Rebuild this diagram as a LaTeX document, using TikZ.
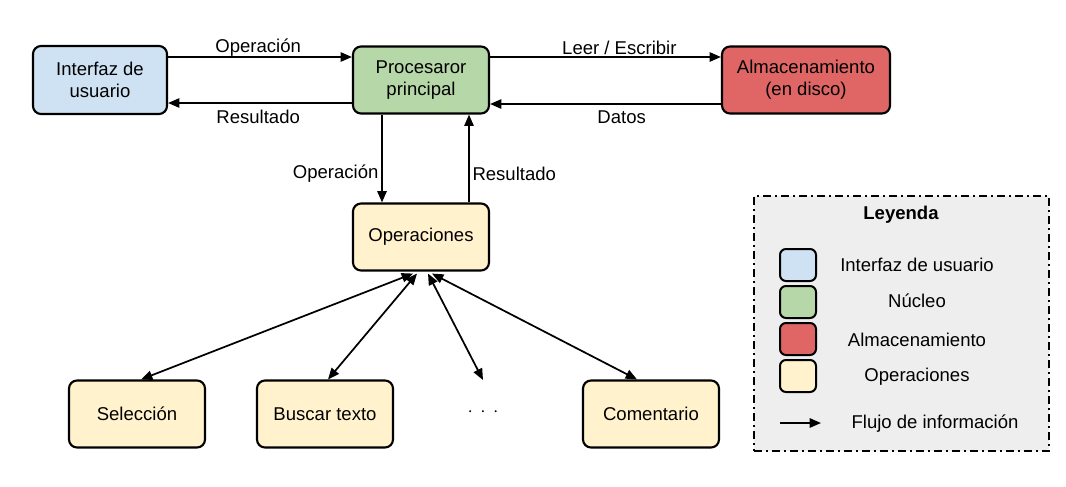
\documentclass[tikz,border=0pt]{standalone}
\usepackage{fontspec}
\setmainfont{Liberation Sans}
\usetikzlibrary{arrows.meta}
\definecolor{cUI}{HTML}{CFE2F3}
\definecolor{cCore}{HTML}{B6D7A8}
\definecolor{cDisk}{HTML}{E06666}
\definecolor{cOps}{HTML}{FFF2CC}
\definecolor{cLeg}{HTML}{EEEEEE}
\tikzset{
  box/.style={draw=black, line width=1.6pt, rounded corners=6pt, align=center,
    minimum width=102pt, minimum height=50.25pt, inner sep=0pt},
  swatch/.style={draw=black, line width=1.5pt, rounded corners=4.5pt,
    minimum width=27pt, minimum height=24pt, inner sep=0pt},
  flow/.style={line width=1.3pt, -{Triangle[length=8.5pt,width=7pt]}},
  biflow/.style={line width=1.3pt, {Triangle[length=8.5pt,width=7pt]}-{Triangle[length=8.5pt,width=7pt]}},
  lbl/.style={inner sep=2pt},
  every node/.style={font=\fontsize{13.9}{16.5}\selectfont}
}
\begin{document}
\begin{tikzpicture}[x=0.75pt,y=-0.75pt]
\useasboundingbox (0,0) rectangle (1066,486);
% main nodes
\node[box, fill=cUI, minimum width=100.5pt, minimum height=51pt] (ui) at (100,80) {Interfaz de\\usuario};
\node[box, fill=cCore] (proc) at (421,80) {Procesaror\\principal};
\node[box, fill=cDisk, minimum width=126pt] (disk) at (806,80) {Almacenamiento\\(en disco)};
\node[box, fill=cOps] (ops) at (421,237) {Operaciones};
\node[box, fill=cOps] (sel) at (137,414) {Selección};
\node[box, fill=cOps] (bus) at (325,414) {Buscar texto};
\node (dots) at (483,412) {$\cdot\,\cdot\,\cdot$};
\coordinate (dotsend) at (483,380);
\node[box, fill=cOps] (com) at (651,414) {Comentario};
% top connectors
\draw[flow] ([yshift=17.25pt]ui.east) -- node[lbl, above, pos=0.49, yshift=-2pt] {Operación} ([yshift=17.25pt]proc.west);
\draw[flow] ([yshift=-17.25pt]proc.west) -- node[lbl, below, pos=0.51, yshift=-2.5pt] {Resultado} ([yshift=-17.25pt]ui.east);
\draw[flow] ([yshift=17.25pt]proc.east) -- node[lbl, above, pos=0.56, yshift=-1pt] {Leer / Escribir} ([yshift=17.25pt]disk.west);
\draw[flow] ([yshift=-18pt]disk.west) -- node[lbl, below, pos=0.43, yshift=-2.5pt] {Datos} ([yshift=-18pt]proc.east);
% vertical connectors
\draw[flow] ([xshift=-29.25pt]proc.south) -- node[lbl, left, pos=0.67] {Operación} ([xshift=-29.25pt]ops.north);
\draw[flow] ([xshift=36pt]ops.north) -- node[lbl, right, pos=0.33] {Resultado} ([xshift=36pt]proc.south);
% fan-out
\draw[biflow] ([xshift=-6pt,yshift=-1.5pt]ops.south) -- ([xshift=3pt]sel.north);
\draw[biflow] ([xshift=-3pt,yshift=-1.5pt]ops.south) -- ([xshift=2.25pt]bus.north);
\draw[biflow] ([xshift=5.25pt,yshift=-1.5pt]ops.south) -- (dotsend);
\draw[biflow] ([xshift=8.25pt,yshift=-1.5pt]ops.south) -- ([xshift=-10.5pt]com.north);
% legend
\node[draw=black, fill=cLeg, line width=1.5pt, dash pattern=on 6pt off 3pt on 1.5pt off 3pt,
  minimum width=221.25pt, minimum height=191.25pt, inner sep=0pt] (leg) at (901.5,323.5) {};
\node[font=\fontsize{13.9}{16.5}\selectfont\bfseries] (legt) at (901,215) {Leyenda};
\node[swatch, fill=cUI] (s1) at (798,265) {};
\node[swatch, fill=cCore] (s2) at (798,302) {};
\node[swatch, fill=cDisk] (s3) at (798,339) {};
\node[swatch, fill=cOps] (s4) at (798,376) {};
\node (t1) at (917,265) {Interfaz de usuario};
\node (t2) at (917,301) {Núcleo};
\node (t3) at (917,340) {Almacenamiento};
\node (t4) at (917,377) {Operaciones};
\coordinate (a1) at (780,423);
\coordinate (a2) at (821,423);
\draw[flow] (a1) -- (a2);
\node (t5) at (935,424) {Flujo de información};
\end{tikzpicture}
\end{document}
